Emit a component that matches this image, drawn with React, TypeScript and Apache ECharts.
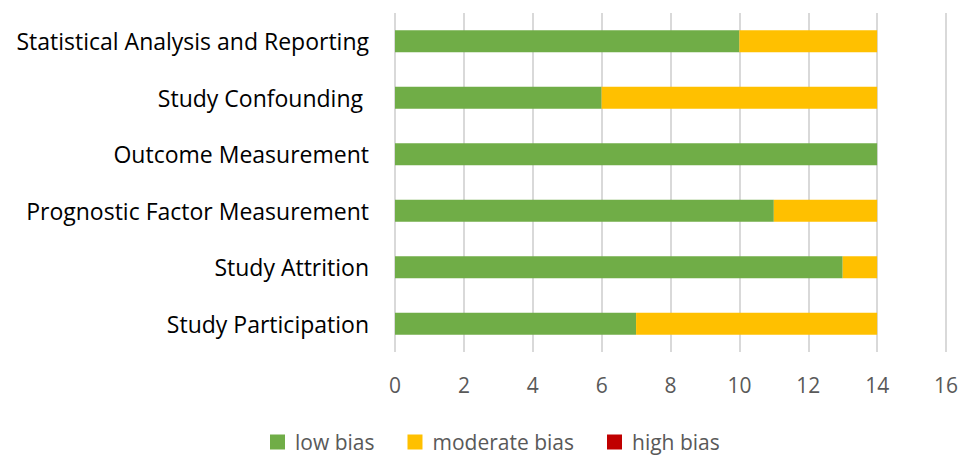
import React, { useEffect, useRef } from "react";
import * as echarts from "echarts";

const categories = [
  "Study Participation",
  "Study Attrition",
  "Prognostic Factor Measurement",
  "Outcome Measurement",
  "Study Confounding ",
  "Statistical Analysis and Reporting",
];
const lowBias = [7, 13, 11, 14, 6, 10];
const moderateBias = [7, 1, 3, 0, 8, 4];
const highBias = [0, 0, 0, 0, 0, 0];
const seriesNames = ["low bias", "moderate bias", "high bias"];
const colors = ["#70AD47", "#FFC000", "#C00000"];

export default function App() {
  const ref = useRef<HTMLDivElement>(null);
  useEffect(() => {
    if (!ref.current) return;
    const chart = echarts.init(ref.current, undefined, { renderer: "svg" });
    const font = "'Open Sans', Lato, sans-serif";
    const data = [lowBias, moderateBias, highBias];
    chart.setOption({
      animation: false,
      grid: { left: 395, right: 24, top: 13, bottom: 105, containLabel: false },
      legend: {
        top: 426,
        left: 265,
        padding: 5,
        itemWidth: 15,
        itemHeight: 15,
        itemGap: 33,
        icon: "rect",
        textStyle: {
          fontFamily: font,
          fontSize: 21,
          lineHeight: 22,
          color: "#595959",
          padding: [0, 0, 0, 5],
        },
        data: seriesNames,
      },
      xAxis: {
        type: "value",
        min: 0,
        max: 16,
        interval: 2,
        axisLine: { show: false },
        axisTick: { show: false },
        splitLine: { lineStyle: { color: "#d9d9d9", width: 2 } },
        axisLabel: { fontFamily: font, fontSize: 21, color: "#595959", margin: 22 },
      },
      yAxis: {
        type: "category",
        data: categories,
        axisLine: { show: false },
        axisTick: { show: false },
        axisLabel: { fontFamily: font, fontSize: 23, color: "#000000", margin: 26 },
      },
      series: seriesNames.map((name, i) => ({
        name,
        type: "bar",
        stack: "total",
        data: data[i],
        barCategoryGap: "61%",
        itemStyle: { color: colors[i] },
      })),
    });
    return () => chart.dispose();
  }, []);
  return (
    <div
      ref={ref}
      style={{ position: "absolute", left: 0, top: 0, width: 970, height: 457 }}
    />
  );
}
